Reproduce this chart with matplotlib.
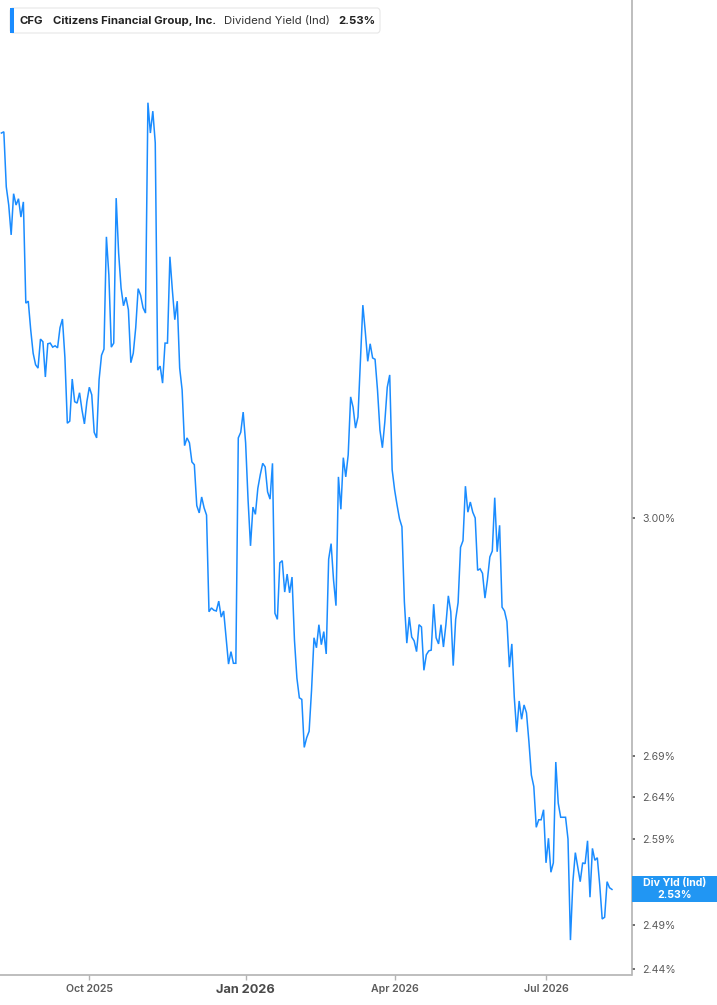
import numpy as np
import pandas as pd
import matplotlib
matplotlib.use("Agg")
import matplotlib.pyplot as plt
from matplotlib.patches import FancyBboxPatch, Rectangle

# trading-day series, one value per session starting 2025-08-11
START = "2025-08-11"
HOLIDAYS = ["2025-09-01", "2025-11-27", "2025-12-25", "2026-01-01", "2026-01-19",
            "2026-02-16", "2026-04-03", "2026-05-25", "2026-06-19", "2026-07-03"]

div_yield = [
    3.578, 3.580, 3.491, 3.462, 3.415, 3.480, 3.462, 3.472, 3.443, 3.467,
    3.310, 3.313, 3.270, 3.235, 3.218, 3.213, 3.256, 3.252, 3.200, 3.249,
    3.250, 3.244, 3.246, 3.243, 3.273, 3.286, 3.229, 3.133, 3.136, 3.197,
    3.164, 3.162, 3.177, 3.152, 3.132, 3.164, 3.185, 3.174, 3.120, 3.112,
    3.196, 3.232, 3.241, 3.412, 3.353, 3.244, 3.250, 3.473, 3.387, 3.333,
    3.306, 3.319, 3.300, 3.221, 3.235, 3.273, 3.332, 3.322, 3.303, 3.295,
    3.628, 3.578, 3.614, 3.562, 3.210, 3.216, 3.191, 3.250, 3.250, 3.381,
    3.330, 3.285, 3.313, 3.213, 3.181, 3.101, 3.112, 3.105, 3.078, 3.074,
    3.017, 3.007, 3.029, 3.014, 3.004, 2.874, 2.879, 2.876, 2.875, 2.888,
    2.867, 2.875, 2.840, 2.806, 2.822, 2.807, 2.807, 3.112, 3.120, 3.149,
    3.105, 3.025, 2.962, 3.015, 3.005, 3.041, 3.060, 3.076, 3.071, 3.036,
    3.026, 3.076, 2.872, 2.864, 2.939, 2.942, 2.900, 2.924, 2.899, 2.920,
    2.837, 2.788, 2.763, 2.761, 2.701, 2.713, 2.721, 2.773, 2.840, 2.827,
    2.857, 2.831, 2.848, 2.819, 2.944, 2.965, 2.916, 2.882, 3.057, 3.012,
    3.084, 3.057, 3.088, 3.171, 3.156, 3.126, 3.142, 3.225, 3.307, 3.267,
    3.223, 3.249, 3.228, 3.226, 3.181, 3.123, 3.098, 3.135, 3.185, 3.203,
    3.067, 3.039, 3.018, 2.999, 2.988, 2.887, 2.833, 2.867, 2.841, 2.836,
    2.822, 2.857, 2.854, 2.798, 2.818, 2.823, 2.824, 2.884, 2.840, 2.832,
    2.857, 2.828, 2.857, 2.895, 2.874, 2.804, 2.864, 2.886, 2.960, 2.969,
    3.044, 3.008, 3.022, 3.008, 3.000, 2.929, 2.931, 2.925, 2.892, 2.916,
    2.947, 2.955, 3.028, 2.954, 2.990, 2.880, 2.875, 2.861, 2.802, 2.832,
    2.764, 2.720, 2.759, 2.736, 2.754, 2.744, 2.708, 2.667, 2.653, 2.604,
    2.613, 2.613, 2.625, 2.562, 2.591, 2.551, 2.562, 2.683, 2.633, 2.616,
    2.616, 2.616, 2.590, 2.473, 2.540, 2.574, 2.557, 2.540, 2.562, 2.561,
    2.588, 2.522, 2.579, 2.565, 2.568, 2.536, 2.497, 2.499, 2.540, 2.533,
    2.531,
]

ytick_vals = [3.00, 2.69, 2.64, 2.59, 2.49, 2.44]
month_starts = ["2025-10-01", "2026-01-01", "2026-04-01", "2026-07-01"]
month_labels = ["Oct 2025", "Jan 2026", "Apr 2026", "Jul 2026"]

ticker = "CFG"
company = "Citizens Financial Group, Inc."
metric = "Dividend Yield (Ind)"
last_label = "2.53%"

W, H = 717, 1005
BLUE = "#1a8cff"
GREY_TXT = "#5b5b5b"
SPINE = "#b3b3b3"

days = pd.bdate_range(START, periods=320)
days = days[~days.isin(pd.to_datetime(HOLIDAYS))][:len(div_yield)]
idx = np.arange(len(days))
tick_idx = [int(np.argmax(days >= pd.Timestamp(m))) for m in month_starts]

plt.rcParams["font.family"] = ["Inter", "DejaVu Sans"]

fig = plt.figure(figsize=(W / 100, H / 100), dpi=100)
ax = fig.add_axes([0, 30 / H, 631.5 / W, 1 - 30 / H])
ax.plot(idx, div_yield, color=BLUE, lw=1.1, solid_joinstyle="miter")

ax.set_yscale("log")
ax.set_ylim(2.4338, 3.8026)
ax.set_xlim(-0.57, 258.0)

for s in ["left", "top"]:
    ax.spines[s].set_visible(False)
for s in ["right", "bottom"]:
    ax.spines[s].set_color(SPINE)
    ax.spines[s].set_linewidth(1.2)

ax.yaxis.tick_right()
ax.set_yticks(ytick_vals)
ax.set_yticklabels([f"{v:.2f}%" for v in ytick_vals])
ax.yaxis.set_minor_locator(matplotlib.ticker.NullLocator())
ax.tick_params(axis="y", which="major", length=2.5, width=1.2, color="#555555",
               labelsize=7.6, labelcolor=GREY_TXT, pad=5)

ax.set_xticks(tick_idx)
ax.set_xticklabels(month_labels)
ax.tick_params(axis="x", length=3.5, width=1.0, color=SPINE,
               labelsize=7.6, labelcolor=GREY_TXT, pad=3)
for lab in ax.get_xticklabels():
    if lab.get_text().startswith("Jan"):
        lab.set_fontweight("bold")
        lab.set_fontsize(9.2)
        lab.set_color("#4a4a4a")
    else:
        lab.set_fontweight("semibold")


def fx(x):
    return x / W


def fy(y):
    return 1 - y / H


# header box
hdr = FancyBboxPatch((fx(10), fy(33)), fx(380) - fx(10), fy(8) - fy(33),
                     boxstyle="round,pad=0,rounding_size=0.004",
                     transform=fig.transFigure, facecolor="white",
                     edgecolor="#e6e6e6", lw=0.8, zorder=5)
fig.patches.append(hdr)
fig.patches.append(Rectangle((fx(10), fy(33)), fx(13.5) - fx(10), fy(8) - fy(33),
                             transform=fig.transFigure, facecolor=BLUE,
                             edgecolor="none", zorder=6))
yc = fy(21)
fig.text(fx(20), yc, ticker, fontsize=8.2, fontweight="bold", color="#222222",
         va="center", zorder=7)
fig.text(fx(53), yc, company, fontsize=8.2, fontweight="bold", color="#222222",
         va="center", zorder=7)
fig.text(fx(224), yc, metric, fontsize=8.2, color="#333333", va="center", zorder=7)
fig.text(fx(338), yc, last_label, fontsize=8.2, fontweight="bold", color="#222222",
         va="center", zorder=7)

# last value badge on the right axis
fig.canvas.draw()
y_last = ax.transData.transform((idx[-1], div_yield[-1]))[1] / H
badge_h = 26 / H
fig.patches.append(Rectangle((fx(632), y_last - badge_h / 2), fx(717) - fx(632), badge_h,
                             transform=fig.transFigure, facecolor="#2196f3",
                             edgecolor="none", zorder=6))
fig.text(fx(674.5), y_last + 6 / H, "Div Yld (Ind)", fontsize=7.6, fontweight="bold",
         color="white", ha="center", va="center", zorder=7)
fig.text(fx(674.5), y_last - 6 / H, f"{div_yield[-1]:.2f}%", fontsize=7.6,
         fontweight="bold", color="white", ha="center", va="center", zorder=7)

fig.savefig("out.png", dpi=100)
